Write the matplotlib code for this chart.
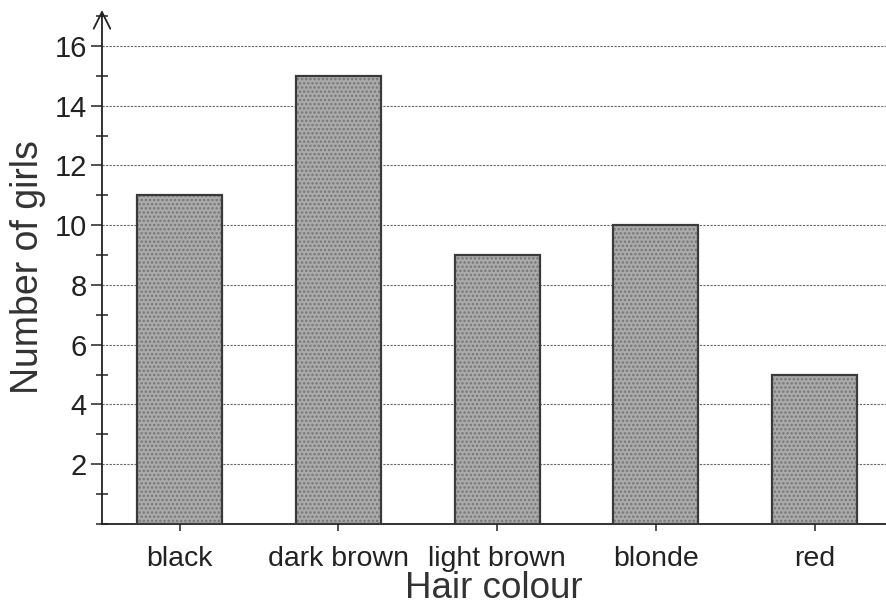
import matplotlib
matplotlib.use('Agg')
import matplotlib.pyplot as plt
from matplotlib.ticker import MultipleLocator

colours = ['black', 'dark brown', 'light brown', 'blonde', 'red']
girls = [11, 15, 9, 10, 5]
yticks = [2, 4, 6, 8, 10, 12, 14, 16]

plt.rcParams['font.family'] = ['Liberation Sans', 'DejaVu Sans']
plt.rcParams['hatch.linewidth'] = 1.2

fig = plt.figure(figsize=(8.86, 6.07), dpi=100)
ax = fig.add_axes([0.1151, 0.1367, 0.8849, 0.8468])

x = range(len(colours))
# textured fill, then a dark outline on top
ax.bar(x, girls, width=0.535, color='#ababab', edgecolor='#767676',
	hatch='....', linewidth=0, zorder=3)
ax.bar(x, girls, width=0.535, fill=False, edgecolor='#3a3a3a',
	linewidth=1.6, zorder=4)

ax.set_xlim(-0.49, 4.45)
ax.set_ylim(0, 17.2)

ax.set_yticks(yticks)
ax.yaxis.set_minor_locator(MultipleLocator(1))
ax.set_xticks(list(x))
ax.set_xticklabels(colours)

for y in yticks:
	ax.axhline(y, color='#666666', linewidth=0.8, linestyle=(0, (2, 1.2)), zorder=1)

ax.tick_params(axis='y', which='major', direction='out', length=8, width=1.1,
	labelsize=21, pad=3, colors='#222222')
ax.tick_params(axis='y', which='minor', direction='inout', length=8, width=1.1,
	colors='#222222')
ax.tick_params(axis='x', direction='out', length=5, width=1.1, labelsize=20.5,
	pad=11, colors='#222222')

for s in ['top', 'right', 'left']:
	ax.spines[s].set_visible(False)
ax.spines['bottom'].set_linewidth(1.3)
ax.spines['bottom'].set_color('#222222')

# y axis with arrow head
ax.annotate('', xy=(0, 1.0), xytext=(0, 0), xycoords='axes fraction',
	arrowprops=dict(arrowstyle='->', color='#222222', lw=1.3,
		mutation_scale=30, shrinkA=0, shrinkB=0))

ax.set_ylabel('Number of girls', fontsize=27, color='#333333', labelpad=6)
ax.set_xlabel('Hair colour', fontsize=26.5, color='#333333', labelpad=-1)

fig.savefig('out.png', dpi=100)
